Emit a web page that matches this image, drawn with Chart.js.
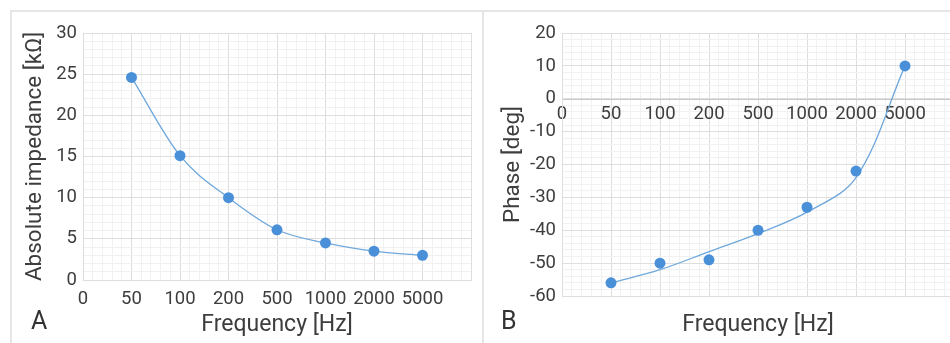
<!DOCTYPE html>
<html>
<head>
<meta charset="utf-8">
<script src="https://cdn.jsdelivr.net/npm/chart.js@4.4.1/dist/chart.umd.min.js"></script>
<style>
  html, body { margin: 0; padding: 0; background: #fff; }
  body { width: 950px; height: 343px; position: relative; overflow: hidden; font-family: Roboto, sans-serif; }
  .frame { position: absolute; top: 10px; height: 340px; border: 2px solid #e6e6e6; border-bottom: none; box-sizing: border-box; }
  .panel { position: absolute; top: 0; height: 343px; overflow: hidden; }
  .tag { position: absolute; top: 306px; font-size: 25px; color: #333; }
</style>
</head>
<body>
<div class="frame" style="left:10px; width:474px;"></div>
<div class="frame" style="left:482px; width:480px;"></div>
<div class="panel" style="left:0; width:480px;"><canvas id="chartA" width="480" height="343"></canvas></div>
<div class="panel" style="left:480px; width:470px;"><canvas id="chartB" width="480" height="343"></canvas></div>
<div class="tag" style="left:31px;">A</div>
<div class="tag" style="left:501px;">B</div>
<script>
// x positions are category indices, 0 is the empty "0" slot
const tickLabels = ['0', '50', '100', '200', '500', '1000', '2000', '5000'];
const freqs = ['50', '100', '200', '500', '1000', '2000', '5000'];
const impedance = [24.6, 15.1, 10.0, 6.1, 4.5, 3.5, 3.0];
const phase = [-56, -50, -49, -40, -33, -22, 10];
const phaseFit = [-56, -52, -46.5, -41, -34.5, -24, 10];

const major = '#dedede';
const minor = '#f1f1f1';
const textCol = '#3d3d3d';
const blue = '#4a90d9';
const lineBlue = '#6fa8dc';

const pts = vals => vals.map((v, i) => ({ x: i + 1, y: v }));
const isInt = v => Math.abs(v - Math.round(v)) < 1e-6;
const tickFont = { size: 18.5, family: 'Roboto' };

function xAxis(extra) {
    return Object.assign({
        type: 'linear', min: 0, max: 8,
        grid: {
            drawTicks: false,
            color: c => isInt(c.tick.value) ? major : minor,
            lineWidth: 1
        },
        border: { color: major },
        ticks: {
            stepSize: 0.2, autoSkip: false, maxRotation: 0, padding: 8,
            color: textCol, font: tickFont,
            callback: v => isInt(v) ? (tickLabels[Math.round(v)] || '') : ''
        }
    }, extra);
}

function yAxis(min, max, step, every, title, width) {
    return {
        min: min, max: max,
        afterFit: s => { s.width = width; },
        grid: {
            drawTicks: false,
            color: c => c.tick.value === 0 && min < 0 ? '#c8c8c8' : (c.tick.value % every === 0 ? major : minor),
            lineWidth: c => c.tick.value === 0 && min < 0 ? 2 : 1
        },
        border: { color: major },
        ticks: {
            stepSize: step, autoSkip: false, padding: 6,
            color: textCol, font: tickFont,
            callback: v => v % every === 0 ? String(v) : ''
        },
        title: { display: true, text: title, color: textCol, font: { size: 22.5, family: 'Roboto' }, padding: 0 }
    };
}

const titleX = { display: true, text: 'Frequency [Hz]', color: textCol, font: { size: 23, family: 'Roboto' }, padding: { top: 0, bottom: 4 } };

// A: absolute impedance
new Chart(document.getElementById('chartA'), {
    type: 'scatter',
    data: {
        datasets: [{
            data: pts(impedance),
            showLine: true,
            cubicInterpolationMode: 'monotone',
            borderColor: lineBlue,
            borderWidth: 1.3,
            backgroundColor: blue,
            pointBackgroundColor: blue,
            pointBorderWidth: 0,
            pointRadius: 5.5
        }]
    },
    options: {
        responsive: false,
        animation: false,
        layout: { padding: { left: 22, top: 33, right: 9, bottom: 0 } },
        plugins: { legend: { display: false }, tooltip: { enabled: false } },
        scales: {
            x: xAxis({ afterFit: s => { s.height = 63; }, title: titleX }),
            y: yAxis(0, 30, 1, 5, 'Absolute impedance [kΩ]', 61)
        }
    }
});

// B: phase
const xB = xAxis({ position: { y: 0 } });
xB.ticks.padding = 5;
new Chart(document.getElementById('chartB'), {
    type: 'scatter',
    data: {
        datasets: [{
            data: pts(phase),
            showLine: false,
            backgroundColor: blue,
            pointBackgroundColor: blue,
            pointBorderWidth: 0,
            pointRadius: 5.5
        }, {
            data: pts(phaseFit),
            showLine: true,
            tension: 0.35,
            borderColor: lineBlue,
            borderWidth: 1.3,
            pointRadius: 0
        }]
    },
    options: {
        responsive: false,
        animation: false,
        layout: { padding: { left: 20, top: 33, right: 6, bottom: 0 } },
        plugins: { legend: { display: false }, tooltip: { enabled: false } },
        scales: {
            x: xB,
            x2: {
                type: 'linear', min: 0, max: 8, position: 'bottom',
                afterFit: s => { s.height = 47; },
                grid: { display: false },
                border: { display: false },
                ticks: { display: false },
                title: titleX
            },
            y: yAxis(-60, 20, 2, 10, 'Phase [deg]', 62)
        }
    }
});
</script>
</body>
</html>
